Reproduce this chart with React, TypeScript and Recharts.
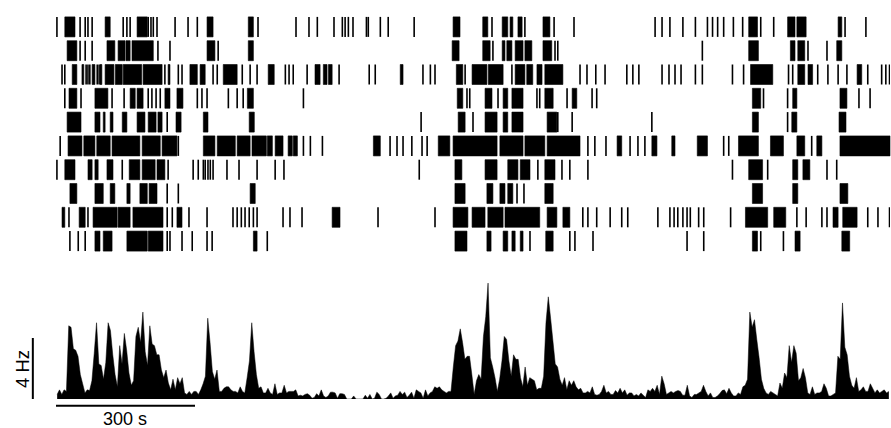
import React from 'react';
import { ComposedChart, Scatter, XAxis, YAxis, ReferenceArea, ReferenceLine, Area } from 'recharts';

// time axis (s)
const T_MAX = 1800;
const BIN_S = 5;
const SCALE_T = 300; // s
const SCALE_HZ = 4; // Hz

type Ev = number | [number, number];

// spike trains, one row per trial; number = single spike time (s), [a, b] = dense burst (s)
const row1: Ev[] = [2, [19, 41], 52, 63, 69, 78, [106, 117], 145, 153, 160, [175, 197], 199, 205, 210, 218, 257, 285, 305, [326, 339], [415, 426], 436, 518, 546, 564, 600, 618, 624, 631, 641, 670, 674, 700, 717, 773, [857, 872], [921, 932], 941, [963, 975], [980, 986], [997, 1006], 1012, [1051, 1066], 1075, 1118, 1293, 1308, 1325, 1353, 1380, 1406, 1417, 1428, 1441, 1462, 1482, [1495, 1514], 1521, 1549, [1579, 1595], [1599, 1619], [1688, 1696], 1703, 1748];
const row2: Ev[] = [[24, 45], 52, 63, 78, [110, 127], [134, 149], [151, 160], [164, 210], 220, 246, [326, 343], 350, [415, 426], [855, 870], [921, 937], 943, [963, 969], [973, 984], [991, 1008], [1012, 1027], [1051, 1070], 1077, 1083, 1395, [1495, 1516], [1585, 1595], [1601, 1616], 1623, 1664, [1685, 1696]];
const row3: Ev[] = [13, 19, [35, 45], [56, 60], 65, 69, 73, [78, 84], 89, 93, [95, 99], [106, 125], [128, 143], [145, 185], [188, 229], 235, [242, 246], 264, 272, [289, 305], [311, 322], 339, 348, [361, 391], 402, 419, 434, [458, 471], 495, 503, 512, 542, [559, 570], [577, 585], [588, 596], 611, 676, 689, [743, 749], 792, 808, 818, [864, 878], 883, [898, 930], [933, 965], 984, [991, 1012], [1016, 1029], [1038, 1049], [1055, 1094], 1131, 1146, 1165, 1185, 1232, 1245, 1258, 1308, 1323, 1336, 1349, 1380, 1395, 1460, 1484, [1499, 1547], 1581, 1590, [1601, 1616], [1623, 1633], 1644, 1666, 1688, 1707, [1729, 1739], 1752, 1782, 1791, 1799];
const row4: Ev[] = [19, [28, 45], 54, [84, 112], 121, 147, [160, 171], [175, 188], 199, 207, 216, 225, [235, 246], [261, 274], 305, 315, 326, 372, 391, 404, [413, 426], 534, [866, 878], 887, 893, [926, 941], 954, [965, 975], [984, 1008], 1038, 1044, [1055, 1073], 1103, [1114, 1124], 1157, 1167, [1503, 1521], 1527, 1579, [1590, 1599], [1692, 1707], 1733, 1757];
const row5: Ev[] = [[24, 54], [84, 95], [102, 106], [117, 123], [143, 153], [175, 192], [199, 216], [220, 229], 240, [259, 270], [318, 328], [417, 428], 788, [868, 883], 900, [926, 952], [965, 975], [984, 1008], [1060, 1081], 1083, 1114, 1286, [1503, 1516], 1579, [1588, 1599], [1690, 1705]];
const row6: Ev[] = [9, [26, 56], [60, 84], [88, 117], [121, 181], [186, 225], [229, 261], 264, [318, 343], [348, 387], [391, 419], [423, 454], [456, 467], [473, 490], [501, 510], [512, 521], 534, 549, 575, [685, 700], 721, 736, 749, 768, 790, 801, [825, 850], [857, 952], [958, 1008], [1012, 1055], [1060, 1131], 1148, 1163, 1187, [1211, 1221], 1239, 1256, 1271, [1286, 1297], [1329, 1336], [1384, 1406], 1441, 1452, [1473, 1516], [1542, 1570], [1599, 1616], 1631, [1642, 1653], [1692, 1800]];
const row7: Ev[] = [2, [19, 41], [69, 78], [84, 91], [110, 123], 143, [158, 181], [186, 214], [218, 235], 242, 296, 307, 318, 322, 328, 333, 339, 369, 395, 434, 473, 492, 784, [861, 876], [926, 952], [975, 997], [1002, 1023], 1040, [1055, 1077], 1092, 1109, 1148, 1460, [1495, 1525], 1536, [1590, 1601], [1612, 1627], 1664, 1685];
const row8: Ev[] = [[30, 45], [84, 102], [117, 127], [153, 160], [181, 197], [201, 218], 240, 264, [419, 430], [861, 883], [930, 943], [958, 969], [975, 986], 995, 1010, [1055, 1073], [1503, 1525], [1590, 1601], [1692, 1709]];
const row9: Ev[] = [[13, 19], 28, [50, 63], 69, [80, 132], [134, 160], [166, 231], 240, 251, [261, 272], 287, 326, 382, 391, 400, 408, 417, 426, 434, 490, 505, 531, [596, 613], 695, 818, [857, 889], [898, 926], [932, 965], [969, 1044], [1060, 1081], [1094, 1109], 1137, 1148, 1167, 1196, 1221, 1234, 1299, 1325, 1334, 1342, 1353, 1362, 1369, 1387, 1398, 1456, [1488, 1536], [1549, 1575], 1599, 1619, 1653, 1664, [1677, 1688], [1698, 1729], 1752, 1774, 1799];
const row10: Ev[] = [30, 48, 63, [84, 95], [102, 121], [153, 197], [199, 231], 240, 246, 272, 294, 326, 337, [426, 434], 456, [861, 887], [930, 939], [965, 975], [984, 991], [1002, 1008], 1023, [1057, 1073], 1109, 1120, 1159, 1362, 1398, [1503, 1514], 1521, 1570, [1595, 1606], [1696, 1713]];

const rows: Ev[][] = [row1, row2, row3, row4, row5, row6, row7, row8, row9, row10];

// population firing rate (Hz), 5 s bins
const rateHz: number[] = [
  0.3, 0.6, 0.3, 0.6, 0.5, 4.8, 4.7, 3.3, 3.2, 2.8,
  1.6, 1.0, 0.4, 0.6, 0.55, 1.2, 3.0, 5.0, 2.3, 2.2,
  1.3, 2.4, 5.0, 4.5, 2.9, 1.6, 0.8, 3.5, 2.3, 4.3,
  3.2, 1.7, 0.9, 1.2, 4.1, 4.7, 3.7, 5.7, 3.1, 2.2,
  4.8, 3.6, 3.5, 2.9, 2.9, 1.9, 1.4, 1.9, 1.05, 0.6,
  1.3, 0.6, 1.4, 1.0, 1.4, 0.4, 0.3, 0.5, 0.3, 0.5,
  0.5, 0.3, 0.6, 1.0, 1.5, 5.3, 3.7, 1.8, 1.3, 1.9,
  0.5, 0.5, 0.7, 0.8, 0.8, 0.6, 0.5, 0.5, 0.4, 0.8,
  0.5, 0.4, 1.4, 2.5, 5.0, 3.1, 1.6, 0.7, 0.8, 0.4,
  0.4, 0.7, 0.4, 0.3, 1.0, 0.3, 0.4, 0.4, 0.9, 0.4,
  0.5, 0.5, 0.5, 0.6, 0.2, 0.25, 0.2, 0.3, 0.35, 0.25,
  0.05, 0.1, 0.35, 0.2, 0.6, 0.2, 0.1, 0.2, 0.45, 0.45,
  0.4, 0.05, 0.35, 0.35, 0.3, 0, 0, 0, 0.2, 0,
  0, 0, 0, 0.25, 0.05, 0.3, 0, 0.05, 0.45, 0.3,
  0, 0, 0.05, 0.2, 0.4, 0.05, 0.2, 0.25, 0.5, 0.3,
  0.45, 0.1, 0.25, 0.45, 0.05, 0.6, 0.5, 0.4, 0.05, 0.6,
  0.2, 0.4, 0.5, 0.8, 0.7, 0.8, 0.6, 0.5, 0.4, 0.5,
  0.5, 2.1, 3.5, 3.8, 4.6, 3.7, 2.6, 2.8, 2.8, 1.6,
  0.3, 1.2, 1.6, 1.3, 4.1, 5.4, 7.6, 2.7, 2.1, 1.4,
  0.5, 1.3, 2.5, 4.1, 3.9, 2.5, 1.5, 2.9, 2.6, 2.6,
  1.4, 0.8, 2.1, 0.9, 1.4, 1.3, 1.2, 0.6, 0.7, 0.7,
  1.5, 5.0, 6.7, 5.3, 3.8, 2.3, 2.1, 1.3, 0.9, 1.4,
  0.6, 1.2, 0.9, 1.2, 0.8, 0.6, 0.7, 0.4, 0.4, 0.5,
  0.4, 0.8, 0.3, 0.25, 0.3, 0.5, 0.9, 0.4, 0.5, 0.3,
  0.3, 0.55, 0.4, 0.7, 0.4, 0.6, 0.25, 0.4, 0.4, 0.2,
  0.3, 0.2, 0.4, 0.25, 0.1, 0.6, 0.5, 0.7, 0.5, 0.9,
  0.3, 1.5, 1.0, 0.3, 0.4, 0.5, 0.4, 0.5, 0.55, 0.5,
  0.25, 0.25, 0.9, 0.2, 0.1, 0.3, 0.3, 0.4, 0.5, 0.9,
  0.5, 0.2, 0.4, 0.1, 0.1, 0.2, 0.35, 0.55, 0.6, 0.35,
  0.7, 0.4, 0.2, 0.2, 0.4, 0.3, 0.8, 0.9, 1.3, 5.7,
  4.7, 5.2, 3.9, 2.7, 1.3, 0.7, 0.4, 0.3, 0.5, 0.4,
  0.3, 0.2, 1.05, 0.7, 1.7, 1.4, 3.5, 2.4, 3.5, 3.0,
  1.2, 1.4, 2.0, 1.4, 0.4, 0.3, 0.8, 0.3, 0.4, 0.4,
  0.5, 1.0, 0.7, 0.2, 0.2, 0.3, 0.4, 2.8, 2.6, 6.3,
  3.4, 2.9, 1.5, 0.9, 0.7, 1.4, 0.5, 0.6, 0.8, 0.5,
  0.5, 1.0, 0.7, 0.4, 0.6, 0.4, 0.5, 0.6, 0.4, 0.5,
];

const singles = rows.flatMap((r, i) =>
  r.filter((e) => typeof e === 'number').map((t) => ({ t: t as number, y: i + 0.5 }))
);
const bursts = rows.flatMap((r, i) =>
  r.filter((e) => Array.isArray(e)).map((e) => {
    const [a, b] = e as [number, number];
    return { a, b, i };
  })
);
const histData = rateHz.map((v, i) => ({ t: i * BIN_S + BIN_S / 2, hz: v }));

const SpikeTick = (props: any) => {
  const { cx, cy } = props;
  if (cx == null || cy == null) return null;
  return <line x1={cx} x2={cx} y1={cy - 10} y2={cy + 10} stroke="#000" strokeWidth={1.6} />;
};

const FONT = '"Liberation Sans", Arial, Helvetica, sans-serif';

export default function App() {
  return (
    <div style={{ position: 'absolute', left: 0, top: 0, width: 891, height: 428, background: '#fff', overflow: 'hidden' }}>
      <div style={{ position: 'absolute', left: 0, top: 0 }}>
        <ComposedChart width={891} height={270} data={singles} margin={{ top: 15, right: 1, bottom: 17, left: 56 }}>
          <XAxis dataKey="t" type="number" domain={[0, T_MAX]} hide allowDataOverflow />
          <YAxis dataKey="y" type="number" domain={[0, rows.length]} reversed hide allowDataOverflow />
          {bursts.map((b, k) => (
            <ReferenceArea
              key={'b' + k}
              x1={b.a}
              x2={b.b}
              y1={b.i + 0.08}
              y2={b.i + 0.92}
              fill="#000"
              fillOpacity={1}
              stroke="#000"
              strokeWidth={0.6}
            />
          ))}
          <Scatter data={singles} dataKey="y" shape={<SpikeTick />} isAnimationActive={false} />
        </ComposedChart>
      </div>
      <div style={{ position: 'absolute', left: 0, top: 260 }}>
        <ComposedChart width={891} height={168} data={histData} margin={{ top: 17, right: 1, bottom: 29, left: 56 }}>
          <XAxis dataKey="t" type="number" domain={[0, T_MAX]} hide allowDataOverflow />
          <YAxis type="number" domain={[0, 8]} hide allowDataOverflow />
          <Area
            dataKey="hz"
            type="linear"
            fill="#000"
            fillOpacity={1}
            stroke="#000"
            strokeWidth={0.5}
            dot={false}
            activeDot={false}
            isAnimationActive={false}
          />
          <ReferenceLine
            segment={[{ x: -50, y: 0 }, { x: -50, y: SCALE_HZ }]}
            stroke="#000"
            strokeWidth={2}
            ifOverflow="visible"
          />
          <ReferenceLine
            segment={[{ x: 0, y: -0.45 }, { x: SCALE_T, y: -0.45 }]}
            stroke="#000"
            strokeWidth={2}
            ifOverflow="visible"
          />
        </ComposedChart>
      </div>
      <svg width={891} height={428} style={{ position: 'absolute', left: 0, top: 0, pointerEvents: 'none' }}>
        <text x={125} y={425} textAnchor="middle" fontFamily={FONT} fontSize={18} fill="#000">
          {SCALE_T} s
        </text>
        <text
          x={29}
          y={369}
          textAnchor="middle"
          fontFamily={FONT}
          fontSize={18.5}
          fill="#000"
          transform="rotate(-90 29 369)"
        >
          {SCALE_HZ} Hz
        </text>
      </svg>
    </div>
  );
}
